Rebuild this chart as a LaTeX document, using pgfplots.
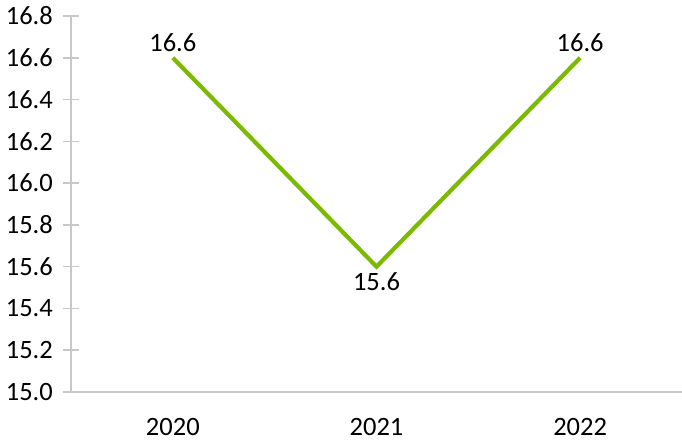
\documentclass[border=0pt]{standalone}
\usepackage{pgfplots}
\pgfplotsset{compat=1.18}
\usepackage{fontspec}
\setmainfont{Carlito}
\definecolor{linegreen}{RGB}{122,186,0}
\definecolor{axgray}{RGB}{200,200,200}
\begin{document}
\fontsize{26}{31}\selectfont
\begin{tikzpicture}
\begin{axis}[
  name=a,
  scale only axis,
  width=611pt, height=376pt,
  xmin=-0.5, xmax=2.5,
  ymin=15, ymax=16.8,
  ytick={15,15.2,...,16.81},
  xtick={0,1,2},
  xticklabels={2020,2021,2022},
  axis x line*=bottom,
  axis y line*=left,
  axis line style={draw=axgray, line width=1.5pt, -},
  every tick/.style={draw=axgray, line width=1.5pt},
  tick align=center,
  major tick length=16pt,
  x tick style={draw=none},
  extra x ticks={0.5,1.5},
  extra x tick labels={},
  extra x tick style={tick style={draw=axgray, line width=1.5pt}, major tick length=16pt},
  /pgf/number format/assume math mode=true,
  y tick label style={/pgf/number format/fixed, /pgf/number format/fixed zerofill, /pgf/number format/precision=1},
  tick label style={font=\fontsize{26.5}{31}\selectfont, text=black},
  yticklabel style={inner sep=0pt, xshift=-10pt},
  xticklabel style={inner sep=0pt, yshift=-18pt},
  clip=false,
]
\addplot[linegreen, line width=4.2pt, mark=none,
  nodes near coords,
  point meta=explicit,
  visualization depends on={value \thisrow{anc} \as \anc},
  every node near coord/.append style={font=\fontsize{26.5}{31}\selectfont, text=black, anchor=\anc, inner sep=4pt,
    /pgf/number format/fixed, /pgf/number format/fixed zerofill, /pgf/number format/precision=1, /pgf/number format/assume math mode=true},
] table[meta index=2] {
x y m anc
0 16.6 16.6 south
1 15.6 15.6 north
2 16.6 16.6 south
};
\end{axis}
\pgfresetboundingbox
\path ([xshift=-71pt,yshift=-51pt]a.south west) rectangle ([yshift=16pt]a.north east);
\end{tikzpicture}
\end{document}
